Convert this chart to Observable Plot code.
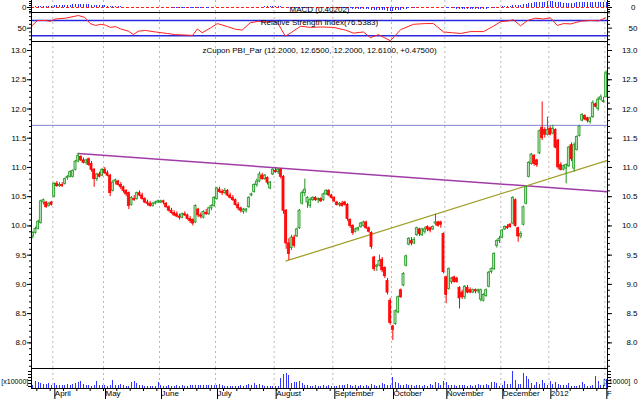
<!DOCTYPE html>
<html><head><meta charset="utf-8">
<script src="https://cdn.jsdelivr.net/npm/d3@7"></script>
<script src="https://cdn.jsdelivr.net/npm/@observablehq/plot@0.6"></script>
<style>
body{margin:0;background:#fff;}
#chart{position:relative;width:640px;height:399px;overflow:hidden;background:#fff;font-family:"Liberation Sans",Arial,sans-serif;}
</style></head><body><div id="chart"></div>
<script>
// ---- month ticks (trading-day index where each month starts) ----
const monthLabels = ["April","May","June","July","August","September","October","November","December","2012","F"];
const monthStart  = [8,27,48,69,91,113,135,155,176,194,215];

// ---- daily OHLC (Mar-2011 .. 1-Feb-2012) ----
const open = [
 9.82,9.88,9.95,10.05,10.40,10.40,10.34,10.40,
 10.50,10.72,10.68,10.70,10.72,10.82,10.84,10.84,10.96,11.10,11.18,11.12,11.08,11.14,11.06,10.96,10.80,10.88,10.86,
 10.96,10.90,10.86,10.60,10.76,10.76,10.70,10.66,10.60,10.56,10.36,10.46,10.46,10.56,10.52,10.46,10.40,10.38,10.34,10.38,10.40,
 10.40,10.42,10.38,10.32,10.26,10.22,10.20,10.16,10.14,10.20,10.18,10.12,10.10,10.06,10.28,10.18,10.14,10.22,10.20,10.30,10.34,
 10.46,10.62,10.58,10.56,10.60,10.52,10.48,10.44,10.36,10.30,10.24,10.26,10.32,10.52,10.58,10.70,10.76,10.86,10.80,10.82,10.64,10.88,
 10.94,10.92,10.96,10.84,10.26,9.70,9.62,9.80,9.82,9.96,10.38,10.56,10.40,10.34,10.44,10.48,10.44,10.46,10.44,10.54,10.60,10.52,
 10.48,10.40,10.36,10.38,10.40,10.36,10.10,10.00,9.90,9.94,9.98,10.00,10.06,9.96,9.88,9.46,9.30,9.32,9.42,9.28,9.06,8.72,
 8.28,8.32,8.52,8.90,8.98,9.32,9.68,9.74,9.70,9.84,9.94,9.84,9.90,9.98,9.96,9.94,10.04,10.06,10.06,9.86,
 9.12,8.92,9.04,9.12,9.10,8.94,8.86,8.78,8.94,8.90,8.86,8.90,8.88,8.74,8.72,8.80,8.96,9.21,9.26,9.66,9.74,
 9.80,9.94,9.98,10.02,10.04,10.44,9.96,9.82,10.02,10.38,10.84,11.06,11.20,11.12,11.24,11.68,11.64,11.56,
 11.66,11.58,11.64,11.46,11.04,10.96,10.98,11.02,11.38,10.98,11.30,11.54,11.80,11.88,11.84,11.78,11.86,12.08,12.00,12.16,12.12,
 12.20];
const high = [
 9.90,9.98,10.10,10.44,10.46,10.42,10.40,10.42,
 10.74,10.76,10.74,10.74,10.82,10.86,10.94,10.96,11.12,11.24,11.20,11.16,11.14,11.16,11.10,10.98,10.90,10.92,10.98,
 11.00,10.94,10.88,10.78,10.80,10.78,10.74,10.68,10.62,10.58,10.50,10.52,10.58,10.60,10.56,10.48,10.44,10.42,10.40,10.42,10.44,
 10.44,10.44,10.40,10.34,10.30,10.26,10.24,10.20,10.22,10.24,10.20,10.16,10.12,10.36,10.30,10.22,10.26,10.28,10.32,10.36,10.50,
 10.66,10.66,10.62,10.64,10.62,10.56,10.52,10.46,10.40,10.32,10.30,10.30,10.50,10.56,10.72,10.80,10.92,10.90,10.88,10.84,10.76,10.98,
 10.99,10.98,10.98,10.86,10.28,9.78,9.84,9.84,9.96,10.28,10.60,10.80,10.50,10.48,10.50,10.50,10.48,10.48,10.56,10.62,10.62,10.54,
 10.50,10.42,10.40,10.42,10.42,10.38,10.12,10.02,9.96,9.98,10.06,10.08,10.08,9.98,9.90,9.48,9.34,9.50,9.46,9.30,9.10,8.76,
 8.30,8.56,8.80,8.92,9.20,9.50,9.80,9.80,9.80,9.98,9.96,9.96,9.98,10.00,9.98,10.00,10.20,10.08,10.08,9.88,
 9.14,9.28,9.12,9.14,9.12,8.96,8.90,8.98,8.98,8.94,8.92,8.92,8.92,8.92,8.84,8.92,9.22,9.28,9.54,9.76,9.82,
 9.94,10.00,10.02,10.04,10.50,10.46,9.98,9.90,10.34,10.68,11.10,11.24,11.22,11.14,11.64,12.12,11.68,11.86,
 11.70,11.72,11.66,11.48,11.08,11.04,11.06,11.36,11.42,11.42,11.54,11.72,11.92,11.90,11.86,11.86,12.14,12.10,12.20,12.24,12.20,
 12.65];
const low = [
 9.78,9.86,9.93,10.03,10.36,10.30,10.32,10.34,
 10.48,10.66,10.66,10.66,10.70,10.78,10.82,10.82,10.94,11.08,11.10,11.06,11.04,11.02,10.92,10.66,10.76,10.82,10.84,
 10.88,10.84,10.50,10.58,10.70,10.68,10.62,10.56,10.50,10.28,10.34,10.42,10.44,10.50,10.44,10.38,10.34,10.32,10.32,10.36,10.38,
 10.38,10.36,10.30,10.24,10.20,10.16,10.14,10.10,10.12,10.16,10.10,10.04,10.00,10.04,10.14,10.12,10.12,10.18,10.18,10.26,10.32,
 10.44,10.56,10.52,10.54,10.50,10.46,10.42,10.34,10.26,10.22,10.20,10.22,10.30,10.50,10.56,10.66,10.74,10.78,10.78,10.70,10.62,10.86,
 10.90,10.88,10.80,10.20,9.60,9.41,9.58,9.62,9.80,9.94,10.36,10.50,10.30,10.30,10.42,10.42,10.38,10.40,10.42,10.52,10.50,10.46,
 10.40,10.34,10.32,10.32,10.34,10.08,9.96,9.84,9.88,9.90,9.96,9.98,9.94,9.88,9.60,9.22,9.22,9.30,9.20,9.10,8.82,8.30,
 8.04,8.30,8.50,8.76,8.96,9.30,9.66,9.66,9.68,9.82,9.82,9.82,9.86,9.90,9.88,9.92,10.00,9.98,9.96,9.18,
 8.67,8.90,9.00,9.02,9.02,8.58,8.74,8.74,8.84,8.84,8.84,8.84,8.84,8.70,8.70,8.78,8.94,9.18,9.24,9.62,9.70,
 9.78,9.92,9.94,9.96,10.02,9.98,9.72,9.78,10.00,10.36,10.82,11.04,11.02,11.00,11.22,11.46,11.50,11.54,
 11.54,11.56,11.32,10.96,10.94,10.94,10.72,11.00,11.10,10.92,11.28,11.52,11.78,11.80,11.76,11.74,11.84,12.02,11.96,12.14,12.10,
 12.20];
const close = [
 9.88,9.95,10.07,10.42,10.44,10.32,10.38,10.36,
 10.72,10.68,10.70,10.68,10.80,10.84,10.92,10.94,11.10,11.20,11.12,11.08,11.12,11.04,10.96,10.80,10.88,10.84,10.96,
 10.90,10.86,10.56,10.74,10.78,10.70,10.66,10.60,10.54,10.34,10.48,10.44,10.56,10.52,10.46,10.40,10.38,10.34,10.38,10.40,10.42,
 10.42,10.40,10.32,10.26,10.22,10.18,10.16,10.14,10.20,10.18,10.12,10.08,10.04,10.34,10.18,10.16,10.24,10.20,10.30,10.34,10.48,
 10.64,10.58,10.56,10.60,10.52,10.48,10.44,10.36,10.30,10.26,10.28,10.28,10.48,10.54,10.70,10.76,10.88,10.80,10.86,10.74,10.74,10.96,
 10.92,10.96,10.84,10.26,9.70,9.52,9.80,9.66,9.94,10.26,10.56,10.62,10.48,10.44,10.48,10.44,10.46,10.42,10.54,10.60,10.52,10.48,
 10.42,10.36,10.38,10.34,10.36,10.12,10.00,9.88,9.94,9.96,10.04,10.06,9.96,9.90,9.64,9.26,9.32,9.40,9.24,9.14,8.86,8.34,
 8.22,8.54,8.78,8.78,9.18,9.48,9.78,9.70,9.76,9.96,9.86,9.94,9.94,9.94,9.92,9.98,10.06,10.00,10.02,9.21,
 8.82,9.26,9.10,9.04,9.04,8.76,8.78,8.96,8.86,8.86,8.90,8.88,8.90,8.90,8.82,8.90,9.20,9.26,9.52,9.74,9.78,
 9.92,9.98,9.96,9.98,10.48,10.00,9.82,9.86,10.32,10.66,11.08,11.22,11.06,11.04,11.62,11.50,11.56,11.64,
 11.56,11.66,11.34,11.00,10.96,11.02,11.04,11.34,11.14,11.38,11.52,11.70,11.90,11.82,11.80,11.84,12.10,12.04,12.16,12.20,12.135,
 12.61];

// ---- volume (x10000) ----
const volume = [
 3,7,6,5,4,4,5,3,5,3, 3,3,3,4,3,4,5,6,7,4, 3,3,2,3,7,3,3,3,2,3,
 8,3,3,4,3,2,2,6,7,5, 3,3,2,2,2,2,2,6,3,2, 2,3,2,2,3,2,3,2,2,3,
 3,3,3,3,3,3,3,3,3,3, 4,3,2,2,2,2,2,2,3,2, 3,4,3,5,3,4,3,2,2,2,
 2,2,2,10,14,15,13,5,6,6, 7,5,3,3,2,2,3,2,2,3, 2,3,2,2,2,3,3,3,4,3,
 2,3,2,3,2,3,2,4,3,2, 3,5,4,3,3,11,6,5,3,3, 4,3,3,2,3,3,2,3,2,4,
 3,6,5,3,7,6,3,3,3,2, 3,3,3,2,3,2,3,4,3,3, 4,3,6,6,5,2,3,7,4,4,
 17,8,4,4,15,12,9,5,3,6, 4,8,5,3,7,4,6,4,3,3, 3,5,2,2,2,3,6,4,2,2,
 3,12,7,3,3,9];

// ---- MACD histogram ----
const macd = [
 0.03,0.04,0.05,0.07,0.09,0.10,0.11,0.11,
 0.13,0.14,0.14,0.15,0.16,0.17,0.18,0.19,0.20,0.22,0.22,0.22,0.21,0.20,0.18,0.15,0.14,0.13,0.13,
 0.12,0.11,0.08,0.07,0.07,0.06,0.05,0.03,0.02,0,-0.01,-0.01,-0.01,-0.02,-0.02,-0.03,-0.03,-0.03,-0.03,-0.03,-0.02,
 -0.02,-0.02,-0.03,-0.03,-0.04,-0.04,-0.05,-0.05,-0.05,-0.05,-0.05,-0.06,-0.06,-0.05,-0.05,-0.05,-0.04,-0.04,-0.04,-0.03,-0.02,
 -0.01,0,0,0.01,0.01,0,0,-0.01,-0.01,-0.02,-0.02,-0.02,-0.01,0,0.01,0.02,0.03,0.03,0.04,0.04,0.04,0.05,
 0.05,0.05,0.04,0.02,-0.02,-0.06,-0.08,-0.09,-0.09,-0.08,-0.06,-0.04,-0.03,-0.03,-0.02,-0.02,-0.02,-0.02,-0.01,-0.01,-0.01,-0.01,
 -0.02,-0.03,-0.04,-0.05,-0.06,-0.08,-0.10,-0.12,-0.13,-0.14,-0.15,-0.16,-0.17,-0.18,-0.20,-0.22,-0.23,-0.24,-0.25,-0.26,-0.27,-0.28,
 -0.28,-0.26,-0.23,-0.20,-0.17,-0.13,-0.09,-0.06,-0.04,-0.02,-0.01,0,0,0.01,0.01,0.01,0.02,0.02,0.01,-0.03,
 -0.07,-0.09,-0.10,-0.11,-0.12,-0.14,-0.15,-0.15,-0.15,-0.15,-0.15,-0.15,-0.14,-0.14,-0.13,-0.12,-0.10,-0.08,-0.05,-0.02,0.01,
 0.04,0.07,0.09,0.11,0.14,0.15,0.15,0.16,0.19,0.23,0.28,0.32,0.34,0.35,0.38,0.40,0.41,0.42,
 0.42,0.42,0.41,0.38,0.35,0.33,0.32,0.32,0.32,0.33,0.34,0.35,0.36,0.37,0.37,0.37,0.38,0.38,0.38,0.38,0.38,
 0.40];

// ---- RSI (position in trading days, value) ----
const rsiIdx = [0,2.2,5.2,7,9,12.7,17.6,20,22,24,26,27.7,29.6,31.5,33.4,36.4,38.2,40,42.7,46.5,51,54,57.7,60.4,62.2,64,67,69.7,73.5,76.5,79,82,85,88,90.4,92.2,95.2,97.1,100.9,104.6,108.4,113.2,117.7,120.7,124.5,127.1,130.1,134.6,138.4,143.2,147.7,150.7,154.5,157.9,160.9,164.6,169.5,173.2,175.9,178.9,180.7,183.4,186,189,192,194.6,197.2,199.5,202.1,205.9,209.6,212.6,215.2];
const rsiVal = [55,70,70,68,74,76,83,78,62,57,60,58,52,54,48,42,33,42,44,40,36,33,32,31,48,38,50,62,54,47,45,64,68,66,68,65,29,37,55,52,53,52,45,37,40,25,33,17,46,60,62,62,40,38,36,41,41,55,67,69,72,56,70,76,74,77,57,62,61,68,70,69,76.5];
const rsiBands = [70, 30];

// ---- drawn lines on price panel ----
const hLevel = [11.72];
const resistIdx = [17.5, 216], resistVal = [11.24, 10.585];
const supportIdx = [95.5, 216], supportVal = [9.40, 11.12];

const titleText = "zCupon PBI_Par (12.2000, 12.6500, 12.2000, 12.6100, +0.47500)";
const macdText = "MACD (0.40202)";
const rsiText = "Relative Strength Index(76.5383)";
const volText = "[x10000]";

// ================= drawing =================
const N = close.length;
const chart = document.getElementById("chart");
const FONT = "'Liberation Sans', Arial, sans-serif";
const base = {width: 640, marginLeft: 31, marginRight: 33, marginTop: 0,
  style: {background: "transparent", fontFamily: FONT, fontSize: "8px", overflow: "visible"}};
function place(svg, top) {
  svg.style.position = "absolute"; svg.style.left = "0px"; svg.style.top = top + "px";
  chart.appendChild(svg);
}
const grid = () => Plot.ruleX(monthStart, {stroke: "#b8b8b8", strokeDasharray: "2,3"});
const frame = () => Plot.frame({stroke: "#000", shapeRendering: "crispEdges"});
const fmt1 = d3.format(".1f");

// ---- MACD panel ----
place(Plot.plot({...base, height: 13, marginBottom: 0,
  x: {domain: [0, N], axis: null},
  y: {domain: [-0.45, 0.525]},
  marks: [
    grid(),
    Plot.ruleY([0], {stroke: "#ff2020", strokeDasharray: "3,2"}),
    Plot.ruleX(macd, {x: (d, i) => i + 0.5, y1: 0, y2: d => d, stroke: "#3030ff", strokeWidth: 1, shapeRendering: "crispEdges"}),
    Plot.ruleX([0, N], {stroke: "#000", shapeRendering: "crispEdges"}),
    Plot.text([macdText], {text: d => d, frameAnchor: "top", dy: 6, fill: "#000"}),
    Plot.axisY([-0.3, -0.15, 0.15, 0.3, 0.45], {anchor: "left", tickSize: 2, tickFormat: () => "", label: null}),
    Plot.axisY([0], {anchor: "left", tickSize: 4, tickPadding: 1, tickFormat: () => "0", label: null}),
    Plot.axisY([-0.3, -0.15, 0.15, 0.3, 0.45], {anchor: "right", tickSize: 2, tickFormat: () => "", label: null}),
    Plot.axisY([0], {anchor: "right", tickSize: 4, tickPadding: 24, textAnchor: "end", tickFormat: () => "0", label: null})
  ]}), 0);

// ---- RSI panel ----
place(Plot.plot({...base, height: 29, marginBottom: 0,
  x: {domain: [0, N], axis: null},
  y: {domain: [15.1, 90.9]},
  marks: [
    grid(),
    Plot.ruleY(rsiBands, {stroke: "#2828e0", strokeWidth: 1.4}),
    Plot.line(rsiIdx.map((x, k) => ({x, y: rsiVal[k]})), {x: "x", y: "y", stroke: "#ff2020", strokeWidth: 1}),
    Plot.text([rsiText], {text: d => d, frameAnchor: "top", dy: 6.5, fill: "#000"}),
    frame(),
    Plot.axisY([20, 30, 40, 60, 70, 80, 90], {anchor: "left", tickSize: 2, tickFormat: () => "", label: null}),
    Plot.axisY([50], {anchor: "left", tickSize: 4, tickPadding: 1, tickFormat: d => String(d), label: null}),
    Plot.axisY([20, 30, 40, 60, 70, 80, 90], {anchor: "right", tickSize: 2, tickFormat: () => "", label: null}),
    Plot.axisY([50], {anchor: "right", tickSize: 4, tickPadding: 26, textAnchor: "end", tickFormat: d => String(d), label: null})
  ]}), 12);

// ---- price panel ----
const candles = close.map((c, i) => ({i, o: open[i], h: high[i], l: low[i], c}));
const up = candles.filter(d => d.c >= d.o), dn = candles.filter(d => d.c < d.o);
const yMajor = d3.range(8, 13.01, 0.5);
const yMinor = d3.range(7.6, 13.15, 0.1);
place(Plot.plot({...base, height: 327, marginBottom: 0,
  x: {domain: [0, N], axis: null},
  y: {domain: [7.5613, 13.154]},
  marks: [
    grid(),
    Plot.ruleY(hLevel, {stroke: "#8080d8", strokeWidth: 1}),
    Plot.line(resistIdx.map((x, k) => ({x, y: resistVal[k]})), {x: "x", y: "y", stroke: "#a03ca8", strokeWidth: 1.5}),
    Plot.line(supportIdx.map((x, k) => ({x, y: supportVal[k]})), {x: "x", y: "y", stroke: "#a0a02c", strokeWidth: 1.3}),
    Plot.ruleX(up, {x: d => d.i + 0.5, y1: "l", y2: "h", stroke: "#1e961e", strokeWidth: 1}),
    Plot.ruleX(dn, {x: d => d.i + 0.5, y1: "l", y2: "h", stroke: "#ff0000", strokeWidth: 1}),
    Plot.rect(up, {x1: d => d.i + 0.12, x2: d => d.i + 0.88, y1: "o", y2: "c", fill: "#b4e4b4", stroke: "#1e961e", strokeWidth: 0.8}),
    Plot.rect(dn, {x1: d => d.i + 0.12, x2: d => d.i + 0.88, y1: "o", y2: "c", fill: "#ff1010", stroke: "#ff0000", strokeWidth: 0.8}),
    Plot.text([titleText], {text: d => d, frameAnchor: "top", dy: 6, fill: "#000"}),
    frame(),
    Plot.axisY(yMinor, {anchor: "left", tickSize: 2, tickFormat: () => "", label: null}),
    Plot.axisY(yMajor, {anchor: "left", tickSize: 4, tickPadding: 1, tickFormat: fmt1, label: null}),
    Plot.axisY(yMinor, {anchor: "right", tickSize: 2, tickFormat: () => "", label: null}),
    Plot.axisY(yMajor, {anchor: "right", tickSize: 4, tickPadding: 26, textAnchor: "end", tickFormat: fmt1, label: null})
  ]}), 41);

// ---- volume panel + date axis ----
const monthLabelOf = new Map(monthStart.map((m, k) => [m, monthLabels[k]]));
place(Plot.plot({...base, height: 31, marginBottom: 11,
  x: {domain: [0, N]},
  y: {domain: [0, 20]},
  marks: [
    grid(),
    Plot.ruleX(volume, {x: (d, i) => i + 0.5, y1: 0, y2: d => d, stroke: "#3434ff", strokeWidth: 1, shapeRendering: "crispEdges"}),
    frame(),
    Plot.axisY([2, 5, 8, 11, 14, 17], {anchor: "left", tickSize: 3, tickFormat: () => "", label: null}),
    Plot.axisY([2, 5, 8, 11, 14, 17], {anchor: "right", tickSize: 3, tickFormat: () => "", label: null}),
    Plot.text([volText], {text: d => d, x: -11.3, y: 7, textAnchor: "start", fontSize: 7, fill: "#000"}),
    Plot.text([volText], {text: d => d, x: 224.5, y: 7, textAnchor: "end", fontSize: 7, fill: "#000"}),
    Plot.text(["0"], {text: d => d, x: 227.3, y: 7, textAnchor: "end", fontSize: 7, fill: "#000"}),
    Plot.axisX(d3.range(2, N, 5), {anchor: "bottom", tickSize: 3, tickFormat: () => "", label: null}),
    Plot.axisX(monthStart, {anchor: "bottom", tickSize: 11, tickPadding: -9, textAnchor: "start", dx: 2,
      tickFormat: d => monthLabelOf.get(d), label: null})
  ]}), 368);
</script>
</body></html>
